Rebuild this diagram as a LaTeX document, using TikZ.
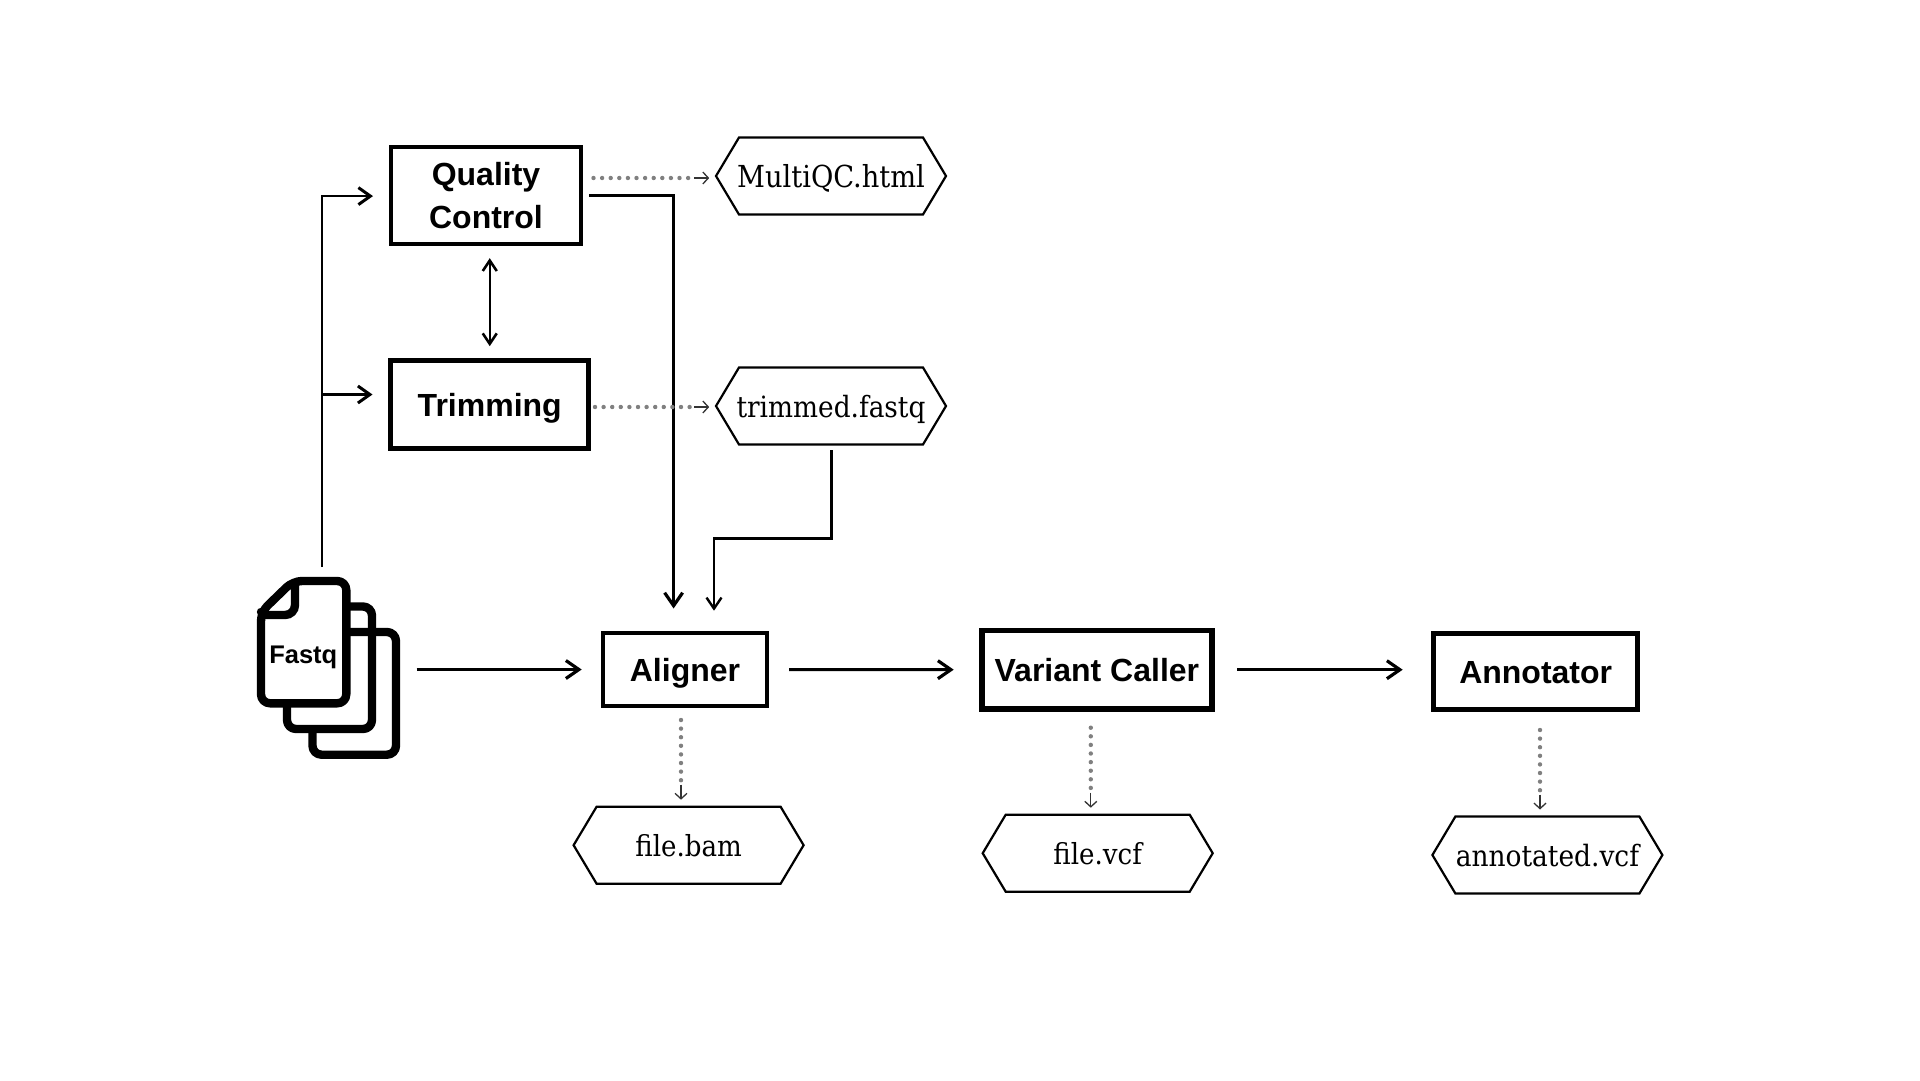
\documentclass[tikz,border=0pt]{standalone}
\usepackage{fontspec}
\setmainfont{DejaVu Serif Condensed}
\newfontfamily\labfont{Liberation Sans}
\usetikzlibrary{arrows.meta,calc}
\tikzset{
  boxnode/.style={draw=black,fill=white,inner sep=0pt,outer sep=0pt,align=center,
    font=\labfont\bfseries\fontsize{32pt}{42.7pt}\selectfont},
  oneline/.style={text height=23pt,text depth=0pt},
  hexlabel/.style={inner sep=0pt,outer sep=0pt,minimum height=77pt,text height=22pt,text depth=0pt},
  hexline/.style={draw=black,line width=2.2pt,line join=miter,fill=white},
  mainarrow/.style={line width=3pt,-{Straight Barb[length=13pt,width=18pt,line width=3.2pt]}},
  thinarrow/.style={line width=2.2pt,-{Straight Barb[length=11pt,width=15pt,line width=2.4pt]}},
  bothway/.style={line width=2.2pt,{Straight Barb[length=10.5pt,width=14pt,line width=2.6pt]}-{Straight Barb[length=10.5pt,width=14pt,line width=2.6pt]}},
  sidearrow/.style={line width=2.3pt,-{Straight Barb[length=12pt,width=17pt,line width=3pt]}},
  dotline/.style={draw=dotgray,line width=4.4pt,line cap=round,dash pattern=on 0pt off 8.6pt},
  stemarrow/.style={draw=stemgray,line width=1.3pt,-{Straight Barb[length=5.5pt,width=12pt,line width=1.3pt]}},
  pageline/.style={draw=black,line width=8.4pt,rounded corners=9pt,line join=round},
}
\definecolor{dotgray}{HTML}{808080}
\definecolor{stemgray}{HTML}{333333}
\newcommand{\hexnode}[5]{%
  \node[hexlabel,minimum width=230pt] (#1) at (#2,#3) {};
  \draw[hexline] (#1.west) -- ([xshift=23pt]#1.north west) -- ([xshift=-23pt]#1.north east)
     -- (#1.east) -- ([xshift=-23pt]#1.south east) -- ([xshift=23pt]#1.south west) -- cycle;
  \node[hexlabel,minimum width=230pt] at (#2,#3) {\fontsize{#4pt}{#4pt}\selectfont #5};
}
\newcommand{\dotconn}[4]{%
  \draw[dotline,shorten <=#3] (#1) -- ($(#2)!#4+15pt!(#1)$);
  \draw[stemarrow] ($(#2)!#4+15pt!(#1)$) -- ($(#2)!#4!(#1)$);
}
\begin{document}
\begin{tikzpicture}[x=1pt,y=-1pt]
\useasboundingbox (0,0) rectangle (1920,1080);
\fill[white] (0,0) rectangle (1920,1080);

% process boxes
\node[boxnode,line width=4.4pt,minimum width=190pt,minimum height=97pt] (qc) at (486,195.3) {Quality\\Control};
\node[boxnode,oneline,line width=5pt,minimum width=198pt,minimum height=88.2pt] (trim) at (489.75,404.85) {Trimming};
\node[boxnode,oneline,line width=4pt,minimum width=163.7pt,minimum height=72.7pt] (aligner) at (685,669.5) {Aligner};
\node[boxnode,oneline,line width=5.6pt,minimum width=230pt,minimum height=78.7pt] (variant) at (1096.9,669.7) {Variant Caller};
\node[boxnode,oneline,line width=5pt,minimum width=203.8pt,minimum height=75.8pt] (annot) at (1535.7,671.6) {Annotator};

% outputs
\hexnode{mq}{831}{176}{30.3}{MultiQC.html}
\hexnode{th}{831}{406}{29.3}{trimmed.fastq}
\hexnode{bam}{688.6}{845.2}{29}{file.bam}
\hexnode{vcf}{1097.7}{853.2}{29}{file.vcf}
\hexnode{anv}{1547.4}{855}{29.4}{annotated.vcf}

% fastq files icon
\node[inner sep=0pt,outer sep=0pt,minimum width=143.3pt,minimum height=182.3pt] (files) at (328.35,667.85) {};
\draw[pageline] (350,632) -- (396,632) -- (396,754.7) -- (312.5,754.7) -- (312.5,725);
\draw[pageline] (346,606.5) -- (372,606.5) -- (372,729) -- (287,729) -- (287,700);
\draw[pageline,fill=white] (261,612) -- (293,581) -- (346.3,581) -- (346.3,703.3) -- (261,703.3) -- cycle;
\draw[line width=8.4pt,line join=miter,rounded corners=10pt] (295,581) -- (295,615) -- (261,615);
\fill (261,612) circle (4.2pt);
\node[font=\labfont\bfseries\fontsize{25.5pt}{25.5pt}\selectfont,inner sep=0pt,text height=18pt,text depth=0pt] (fastq) at (303.3,654.3) {Fastq};

% solid connectors
\draw[sidearrow,shorten <=9.7pt,shorten >=18pt] ([xshift=-6.7pt]files.north) |- ([yshift=-0.8pt]qc.west);
\coordinate (br) at (321.7,394.5);
\draw[sidearrow,shorten >=18.25pt] (br) -- (br -| trim.west);
\draw[bothway,shorten <=14.35pt,shorten >=14.55pt] (trim.north |- qc.south) -- (trim.north);
\draw[line width=2.6pt,-{Straight Barb[length=13pt,width=18pt,line width=3.2pt]},shorten <=8pt,shorten >=24.65pt] (qc.east) -| ([xshift=-11.4pt]aligner.north);
\coordinate (e1) at (831,538);
\coordinate (e2) at (714,538);
\draw[line width=3pt,line cap=rect,shorten <=7pt] (th.south) -- (e1) -- (e2);
\draw[thinarrow,shorten >=22.45pt] (e2) -- (e2 |- aligner.north);
\draw[mainarrow,shorten <=16.7pt,shorten >=21.45pt] (files.east |- aligner.west) -- (aligner.west);
\draw[mainarrow,shorten <=22.15pt,shorten >=28.2pt] (aligner.east) -- (variant.west);
\draw[mainarrow,shorten <=25.4pt,shorten >=31.1pt] (variant.east) -- (variant.east -| annot.west);

% dotted connectors
\coordinate (qa) at ([yshift=17.3pt]qc.east);
\coordinate (qb) at (qa -| mq.west);
\dotconn{qa}{qb}{12.5pt}{6.8pt}
\coordinate (ta) at ([yshift=-2.15pt]trim.east);
\coordinate (tb) at (ta -| th.west);
\dotconn{ta}{tb}{6.25pt}{6.8pt}
\coordinate (aa) at ([xshift=-4pt]aligner.south);
\coordinate (ab) at (aa |- bam.north);
\dotconn{aa}{ab}{14.15pt}{7pt}
\coordinate (va) at ([xshift=-6.1pt]variant.south);
\coordinate (vb) at (va |- vcf.north);
\dotconn{va}{vb}{18.65pt}{7pt}
\coordinate (na) at ([xshift=4.3pt]annot.south);
\coordinate (nb) at (na |- anv.north);
\dotconn{na}{nb}{20.5pt}{7pt}
\end{tikzpicture}
\end{document}
